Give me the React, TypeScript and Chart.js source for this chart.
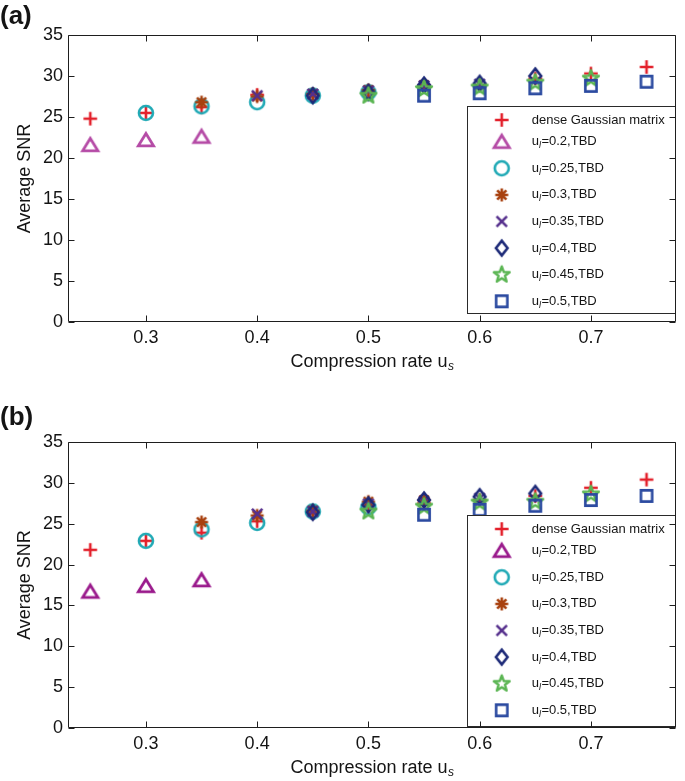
import React, { useEffect, useRef } from 'react';
import { Chart, registerables } from 'chart.js';

Chart.register(...registerables);

// ---------- data ----------
const usValues = [0.25, 0.3, 0.35, 0.4, 0.45, 0.5, 0.55, 0.6, 0.65, 0.7, 0.75];
const xTickValues = [0.3, 0.4, 0.5, 0.6, 0.7];
const yTickValues = [0, 5, 10, 15, 20, 25, 30, 35];
const ulLabels = ['0.2', '0.25', '0.3', '0.35', '0.4', '0.45', '0.5'];
const denseLabel = 'dense Gaussian matrix';
const xTitle = 'Compression rate u';
const xTitleSub = 's';
const yTitle = 'Average SNR';
const N = null;

// panel (a)
const aDense = [24.8, 25.5, 26.2, 27.7, 27.8, 28.1, 28.7, 28.9, 29.7, 30.3, 31.1];
const aL020 = [21.6, 22.2, 22.6, N, N, N, N, N, N, N, N];
const aL025 = [N, 25.5, 26.3, 26.8, 27.6, 28.0, N, N, N, N, N];
const aL030 = [N, N, 26.8, 27.5, 27.8, 28.3, 28.9, N, N, N, N];
const aL035 = [N, N, N, 27.6, 27.8, 28.2, 28.8, 29.0, N, N, N];
const aL040 = [N, N, N, N, 27.6, 28.0, 28.9, 29.1, 30.0, N, N];
const aL045 = [N, N, N, N, N, 27.6, 28.4, 28.6, 29.2, 29.7, N];
const aL050 = [N, N, N, N, N, N, 27.6, 27.9, 28.5, 28.8, 29.3];

// panel (b)
const bDense = [21.8, 22.9, 23.9, 25.3, 26.3, 27.2, 27.5, 27.9, 28.4, 29.4, 30.4];
const bL020 = [16.7, 17.4, 18.1, N, N, N, N, N, N, N, N];
const bL025 = [N, 22.9, 24.3, 25.1, 26.5, 27.0, N, N, N, N, N];
const bL030 = [N, N, 25.2, 26.0, 26.6, 27.7, 27.9, N, N, N, N];
const bL035 = [N, N, N, 26.2, 26.5, 27.4, 27.7, 28.1, N, N, N];
const bL040 = [N, N, N, N, 26.4, 27.3, 27.9, 28.3, 28.7, N, N];
const bL045 = [N, N, N, N, N, 26.5, 27.1, 27.6, 27.7, 28.6, N];
const bL050 = [N, N, N, N, N, N, 26.1, 26.7, 27.2, 27.9, 28.4];

// ---------- styles ----------
const FONT = '"Liberation Sans", Arial, Helvetica, sans-serif';
const TEXT = '#141414';
const markerKinds = ['plus', 'triangle', 'circle', 'asterisk', 'x', 'diamond', 'pentagram', 'square'];
const baseColors = ['#e3202b', '#b54ba6', '#1fa9b5', '#a8410f', '#56308d', '#1d2a78', '#5ab552', '#2b4aa0'];

function makeMarker(kind: string, color: string): HTMLCanvasElement {
  const s = 28;
  const c = document.createElement('canvas');
  c.width = s;
  c.height = s;
  const g = c.getContext('2d') as CanvasRenderingContext2D;
  g.translate(s / 2, s / 2);
  g.strokeStyle = color;
  g.lineWidth = 2.6;
  g.lineJoin = 'miter';
  g.beginPath();
  switch (kind) {
    case 'plus':
      g.moveTo(-6.8, 0); g.lineTo(6.8, 0); g.moveTo(0, -6.8); g.lineTo(0, 6.8);
      break;
    case 'triangle':
      g.lineWidth = 2.8;
      g.moveTo(0, -6.6); g.lineTo(7.6, 5.8); g.lineTo(-7.6, 5.8); g.closePath();
      break;
    case 'circle':
      g.arc(0, 0, 7.0, 0, Math.PI * 2);
      break;
    case 'asterisk':
      for (let k = 0; k < 4; k++) {
        const a = (k * Math.PI) / 4;
        g.moveTo(-6.5 * Math.cos(a), -6.5 * Math.sin(a));
        g.lineTo(6.5 * Math.cos(a), 6.5 * Math.sin(a));
      }
      break;
    case 'x':
      g.moveTo(-5.2, -5.2); g.lineTo(5.2, 5.2); g.moveTo(5.2, -5.2); g.lineTo(-5.2, 5.2);
      break;
    case 'diamond':
      g.moveTo(0, -7.4); g.lineTo(5.8, 0); g.lineTo(0, 7.4); g.lineTo(-5.8, 0); g.closePath();
      break;
    case 'pentagram': {
      g.lineJoin = 'round';
      g.lineWidth = 2.4;
      for (let k = 0; k < 10; k++) {
        const r = k % 2 === 0 ? 8.3 : 3.4;
        const a = -Math.PI / 2 + (k * Math.PI) / 5;
        const px = r * Math.cos(a);
        const py = r * Math.sin(a);
        if (k === 0) g.moveTo(px, py); else g.lineTo(px, py);
      }
      g.closePath();
      break;
    }
    case 'square':
      g.rect(-5.6, -5.6, 11.2, 11.2);
      break;
  }
  g.stroke();
  return c;
}

interface PanelSpec {
  tag: string;
  series: (number | null)[][];
  triColor: string;
  top: number;
  height: number;
  padTop: number;
  xAxisH: number;
  legendOffset: number;
  legendH: number;
  tagY: number;
}

const panels: PanelSpec[] = [
  {
    tag: '(a)',
    series: [aDense, aL020, aL025, aL030, aL035, aL040, aL045, aL050],
    triColor: '#b54ba6',
    top: 0, height: 395, padTop: 35, xAxisH: 73, legendOffset: 71, legendH: 208, tagY: 17,
  },
  {
    tag: '(b)',
    series: [bDense, bL020, bL025, bL030, bL035, bL040, bL045, bL050],
    triColor: '#9a1a8c',
    top: 395, height: 386, padTop: 47, xAxisH: 53, legendOffset: 73, legendH: 212, tagY: 23,
  },
];

function Panel({ spec }: { spec: PanelSpec }) {
  const ref = useRef<HTMLCanvasElement>(null);
  useEffect(() => {
    const canvas = ref.current;
    if (!canvas) return;
    const colors = baseColors.slice();
    colors[1] = spec.triColor;
    const markers = markerKinds.map((k, i) => makeMarker(k, colors[i]));

    const datasets = spec.series.map((vals, i) => ({
      label: i === 0 ? denseLabel : 'u_l=' + ulLabels[i - 1] + ',TBD',
      data: usValues
        .map((x, j) => ({ x, y: vals[j] }))
        .filter((p) => p.y !== null && p.y !== undefined) as { x: number; y: number }[],
      pointStyle: markers[i] as any,
      pointRadius: 8,
      pointHoverRadius: 8,
      showLine: false,
      order: -i,
    }));

    const overlay = {
      id: 'overlay',
      afterDraw(chart: any) {
        const ctx: CanvasRenderingContext2D = chart.ctx;
        const area = chart.chartArea;
        const xs = chart.scales.x;
        const ys = chart.scales.y;
        ctx.save();

        // legend
        const lw = 209;
        const lx = area.right - lw;
        const ly = area.top + spec.legendOffset;
        ctx.fillStyle = '#ffffff';
        ctx.fillRect(lx, ly, lw, spec.legendH);
        ctx.strokeStyle = '#2a2a2a';
        ctx.lineWidth = 1;
        ctx.strokeRect(Math.round(lx) + 0.5, Math.round(ly) + 0.5, lw - 1, spec.legendH - 1);
        for (let i = 0; i < 8; i++) {
          const ry = i === 0 ? ly + 14 : ly + 35.7 + (i - 1) * 26.6;
          const m = markers[i];
          ctx.drawImage(m, lx + 34.7 - m.width / 2, ry - m.height / 2);
          ctx.fillStyle = TEXT;
          ctx.textBaseline = 'middle';
          ctx.textAlign = 'left';
          const tx = lx + 64.7;
          ctx.font = '13px ' + FONT;
          if (i === 0) {
            ctx.fillText(denseLabel, tx, ry);
          } else {
            ctx.fillText('u', tx, ry);
            const wu = ctx.measureText('u').width;
            ctx.font = 'italic 9px ' + FONT;
            ctx.fillText('l', tx + wu, ry + 4);
            const wl = ctx.measureText('l').width;
            ctx.font = '13px ' + FONT;
            ctx.fillText('=' + ulLabels[i - 1] + ',TBD', tx + wu + wl + 0.5, ry);
          }
        }

        // frame and inside ticks
        const L = Math.round(area.left) + 0.5;
        const R = Math.round(area.right) - 0.5;
        const T = Math.round(area.top) + 0.5;
        const B = Math.round(area.bottom) - 0.5;
        ctx.strokeStyle = '#1e1e1e';
        ctx.lineWidth = 1;
        ctx.beginPath();
        ctx.rect(L, T, R - L, B - T);
        const tl = 6;
        xTickValues.forEach((v) => {
          const px = Math.round(xs.getPixelForValue(v)) + 0.5;
          ctx.moveTo(px, B); ctx.lineTo(px, B - tl);
          ctx.moveTo(px, T); ctx.lineTo(px, T + tl);
        });
        yTickValues.forEach((v) => {
          const py = Math.round(ys.getPixelForValue(v)) + 0.5;
          ctx.moveTo(L, py); ctx.lineTo(L + tl, py);
          ctx.moveTo(R, py); ctx.lineTo(R - tl, py);
        });
        ctx.stroke();

        // axis titles
        ctx.fillStyle = TEXT;
        ctx.font = '18px ' + FONT;
        ctx.textBaseline = 'middle';
        const w1 = ctx.measureText(xTitle).width;
        ctx.font = 'italic 12px ' + FONT;
        const w2 = ctx.measureText(xTitleSub).width;
        const cx = (area.left + area.right) / 2;
        const sx = cx - (w1 + w2) / 2;
        const ty = area.bottom + 40;
        ctx.textAlign = 'left';
        ctx.font = '18px ' + FONT;
        ctx.fillText(xTitle, sx, ty);
        ctx.font = 'italic 12px ' + FONT;
        ctx.fillText(xTitleSub, sx + w1 + 0.5, ty + 5);

        ctx.save();
        ctx.translate(25, (area.top + area.bottom) / 2);
        ctx.rotate(-Math.PI / 2);
        ctx.textAlign = 'center';
        ctx.font = '18px ' + FONT;
        ctx.fillText(yTitle, 0, 0);
        ctx.restore();

        // panel tag
        ctx.font = 'bold 26px ' + FONT;
        ctx.textAlign = 'left';
        ctx.textBaseline = 'middle';
        ctx.fillText(spec.tag, 0, spec.tagY);

        ctx.restore();
      },
    };

    const chart = new Chart(canvas, {
      type: 'scatter',
      data: { datasets: datasets as any },
      options: {
        responsive: false,
        animation: false,
        events: [],
        layout: { padding: { top: spec.padTop, right: 4, left: 0, bottom: 0 } },
        plugins: { legend: { display: false }, tooltip: { enabled: false }, title: { display: false } },
        scales: {
          x: {
            type: 'linear',
            min: 0.23,
            max: 0.7765,
            grid: { display: false, drawTicks: false },
            border: { display: false },
            ticks: {
              font: { family: FONT, size: 18 },
              color: TEXT,
              padding: 5,
              autoSkip: false,
              maxRotation: 0,
              callback: (v: any) => Number(v).toFixed(1),
            },
            afterBuildTicks: (s: any) => {
              s.ticks = xTickValues.map((v) => ({ value: v }));
            },
            afterFit: (s: any) => {
              s.height = spec.xAxisH;
            },
          },
          y: {
            type: 'linear',
            min: 0,
            max: 35,
            grid: { display: false, drawTicks: false },
            border: { display: false },
            ticks: {
              font: { family: FONT, size: 18 },
              color: TEXT,
              padding: 5,
              autoSkip: false,
              callback: (v: any) => String(v),
            },
            afterBuildTicks: (s: any) => {
              s.ticks = yTickValues.map((v) => ({ value: v }));
            },
            afterFit: (s: any) => {
              s.width = 68;
            },
          },
        },
      } as any,
      plugins: [overlay],
    });
    return () => chart.destroy();
  }, [spec]);

  return (
    <canvas
      ref={ref}
      width={685}
      height={spec.height}
      style={{ position: 'absolute', left: 0, top: spec.top, width: 685, height: spec.height }}
    />
  );
}

export default function App() {
  return (
    <div style={{ position: 'absolute', left: 0, top: 0, width: 685, height: 781, background: '#ffffff', overflow: 'hidden' }}>
      {panels.map((p) => (
        <Panel key={p.tag} spec={p} />
      ))}
    </div>
  );
}
